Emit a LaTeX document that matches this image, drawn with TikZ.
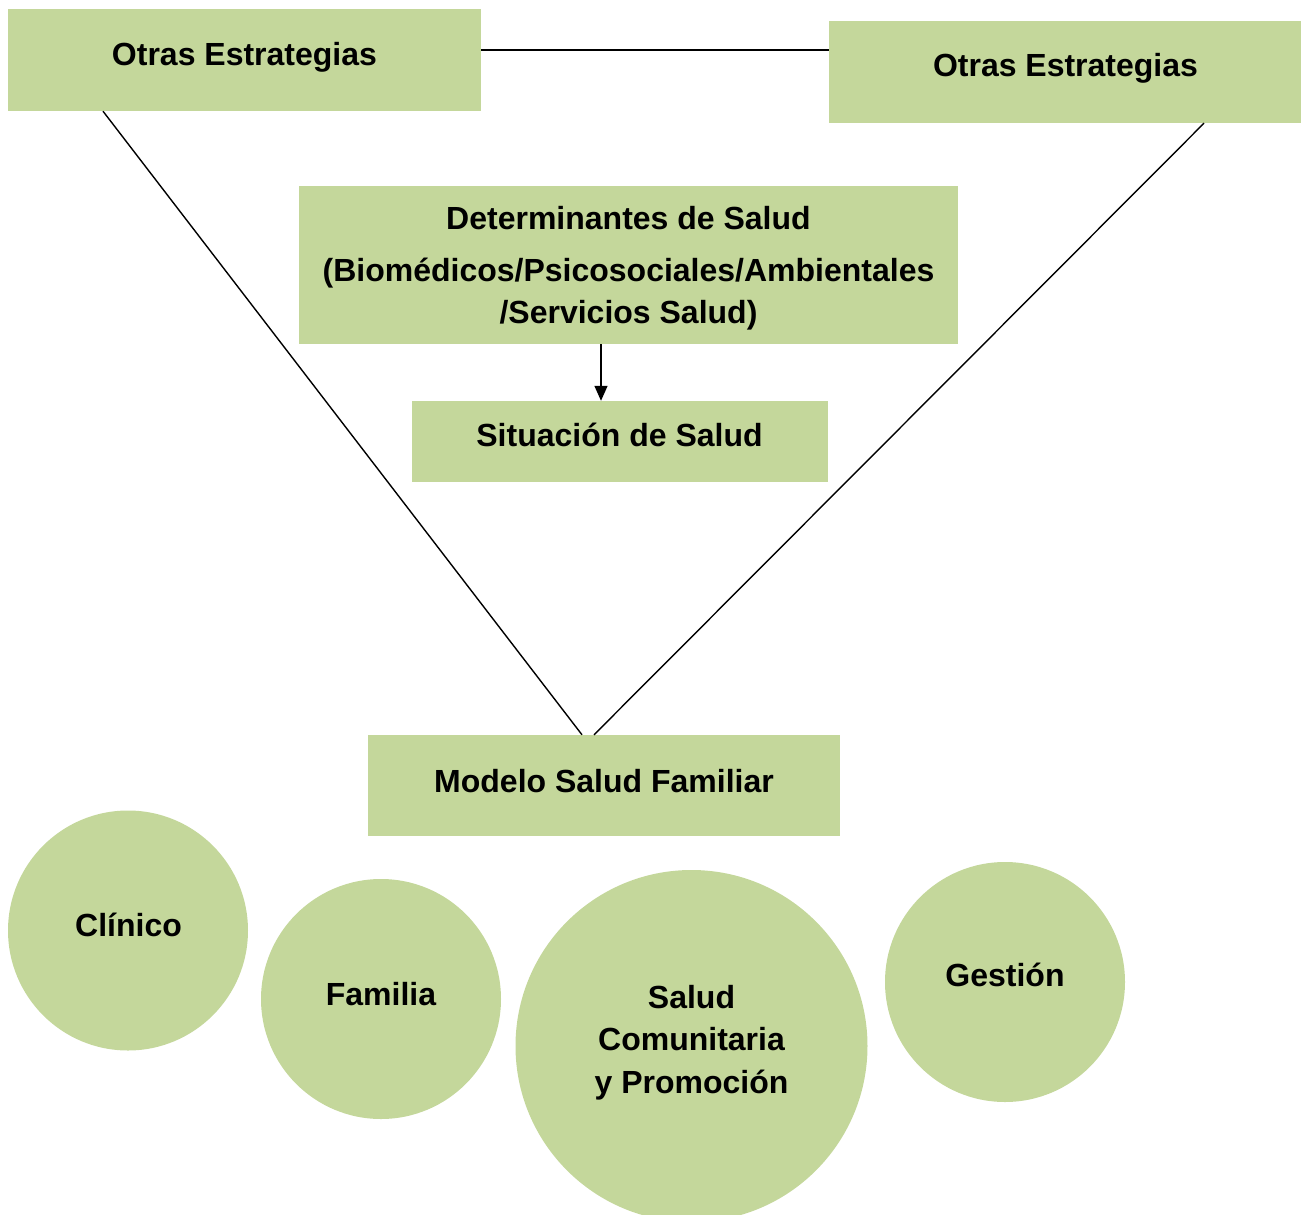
\documentclass[tikz,border=0pt]{standalone}
\usepackage{fontspec}
\setmainfont{Liberation Sans}
\usetikzlibrary{arrows.meta,calc}
\definecolor{boxgreen}{RGB}{196,215,155}
\begin{document}
\begin{tikzpicture}[x=1pt,y=-1pt,
  box/.style={rectangle,fill=boxgreen,draw=none,inner sep=0pt},
  circ/.style={circle,fill=boxgreen,draw=none,inner sep=0pt},
  txt/.style={anchor=base,inner sep=0pt,font=\fontsize{32}{42}\selectfont\bfseries},
  conn/.style={draw=black,line width=1.4pt}]
\useasboundingbox (0,0) rectangle (1307,1215);
% boxes
\node[box,minimum width=473pt,minimum height=102pt] (o1) at (244.5,60) {};
\node[box,minimum width=472pt,minimum height=102pt] (o2) at (1065,72) {};
\node[box,minimum width=659pt,minimum height=158pt] (d) at (628.5,265) {};
\node[box,minimum width=416pt,minimum height=81pt] (s) at (620,441.5) {};
\node[box,minimum width=472pt,minimum height=101pt] (m) at (604,785.5) {};
% circles
\node[circ,minimum size=240pt] (c1) at (128,930.5) {};
\node[circ,minimum size=240pt] (c2) at (381,999) {};
\node[circ,minimum size=352pt] (c3) at (691.5,1046) {};
\node[circ,minimum size=240pt] (c4) at (1005,982) {};
% texts
\node[txt] (o1t) at (244.5,66) {Otras Estrategias};
\node[txt] (o2t) at (1065.5,77) {Otras Estrategias};
\node[txt] (dt1) at (628.5,229) {Determinantes de Salud};
\node[txt] (dt2) at (628.5,281) {(Biomédicos/Psicosociales/Ambientales};
\node[txt] (dt3) at (628.5,323) {/Servicios Salud)};
\node[txt] (st) at (619.5,446) {Situación de Salud};
\node[txt] (mt) at (604,792) {Modelo Salud Familiar};
\node[txt] (c1t) at (128.5,936) {Clínico};
\node[txt] (c2t) at (381,1005) {Familia};
\node[txt] (c3t1) at (691.5,1008) {Salud};
\node[txt] (c3t2) at (691.5,1050) {Comunitaria};
\node[txt] (c3t3) at (691.5,1093) {y Promoción};
\node[txt] (c4t) at (1005,986) {Gestión};
% connectors
\draw[conn] ([yshift=10pt]o1.east) -- ([yshift=22pt]o2.west);
\draw[conn] ([xshift=-141.5pt]o1.south) -- ([xshift=-22pt]m.north);
\draw[conn] ([xshift=139pt]o2.south) -- ([xshift=-10pt]m.north);
\draw[conn,-{Triangle[length=15pt,width=13pt]}] ([xshift=-27.5pt]d.south) -- ([xshift=-19pt]s.north);
\end{tikzpicture}
\end{document}
